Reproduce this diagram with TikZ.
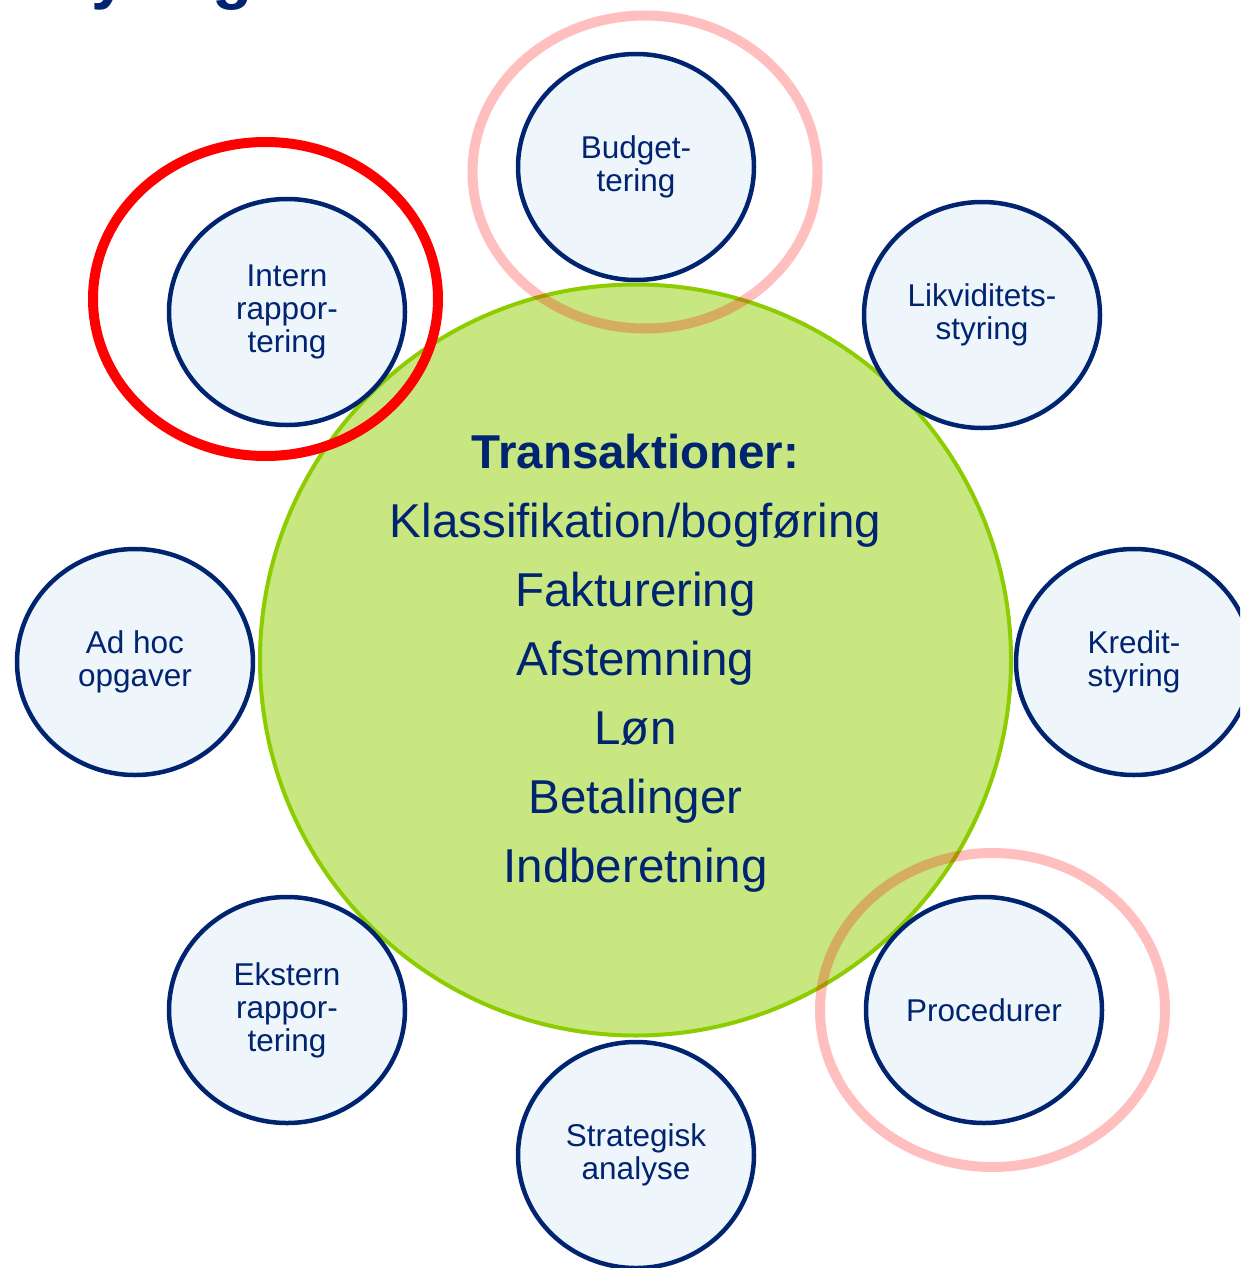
\documentclass[tikz,border=0pt]{standalone}
\usepackage{fontspec}
\setmainfont{Liberation Sans}
\usetikzlibrary{shapes.geometric}
\definecolor{deepblue}{RGB}{0,36,112}
\definecolor{topicfill}{RGB}{238,246,251}
\definecolor{hubfill}{RGB}{200,231,128}
\definecolor{hubline}{RGB}{140,204,0}
\tikzset{every picture/.style={line width=0.75pt}}
\tikzset{
	topic/.style={ellipse, draw=deepblue, line width=4.5pt, fill=topicfill,
		minimum width=236pt, minimum height=226pt, inner sep=0pt,
		align=center, text=deepblue, font=\fontsize{31.5}{33}\selectfont},
	hub/.style={circle, draw=hubline, line width=4pt, fill=hubfill,
		minimum size=751pt, inner sep=0pt},
	hubtext/.style={align=center, text=deepblue, font=\fontsize{47.5}{69}\selectfont},
	faintring/.style={draw=red, draw opacity=0.25, line width=10pt},
	markring/.style={draw=red, line width=10pt}}

\begin{document}
\begin{tikzpicture}[x=1pt,y=1pt,yscale=-1,xscale=1]
	\clip (0,0) rectangle (1240,1268);

	%Shape: Circle [hub]
	\node [hub] (hub) at (635.5,660) {};
	% Text Node
	\node [hubtext] (hubtext) at ([yshift=3.5pt]hub.center) {\textbf{Transaktioner:}\\Klassifikation/bogføring\\Fakturering\\Afstemning\\Løn\\Betalinger\\Indberetning};

	%Shape: Ellipse [topics around the hub]
	\node [topic] (budget) at (636,167) {Budget-\\tering};
	\node [topic] (intern) at (287,312) {Intern\\rappor-\\tering};
	\node [topic] (likvid) at (982,315) {Likviditets-\\styring};
	\node [topic] (adhoc) at (135,662) {Ad hoc\\opgaver};
	\node [topic] (kredit) at (1134,662) {Kredit-\\styring};
	\node [topic] (ekstern) at (287,1010) {Ekstern\\rappor-\\tering};
	\node [topic] (strategi) at (636,1155) {Strategisk\\analyse};
	\node [topic] (proced) at (984,1010) {Procedurer};

	%Shape: Ellipse [rings]
	\draw [faintring] (645,172) ellipse (172.5 and 156.5);
	\draw [faintring] (992.5,1010) ellipse (172.5 and 157);
	\draw [markring] (265.5,299) ellipse (172.5 and 157);

	% Text Node
	\node [anchor=base west, text=deepblue, font=\bfseries\fontsize{66}{70}\selectfont] (title) at (22,-3) {Styring};

\end{tikzpicture}
\end{document}
